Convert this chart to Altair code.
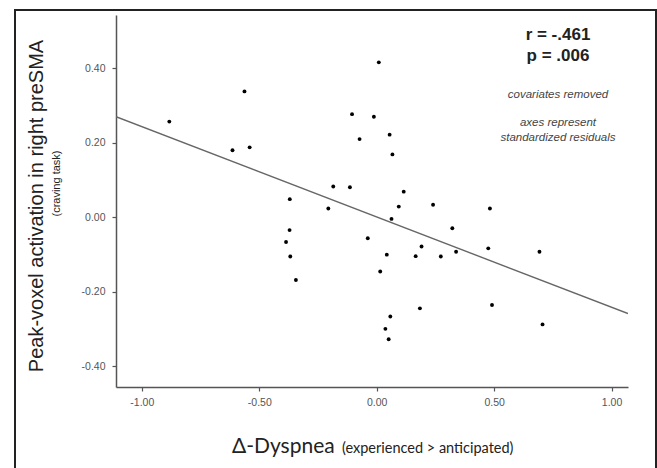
import altair as alt
import pandas as pd

# Standardized residuals: change in dyspnea vs. peak-voxel preSMA activation
dyspnea = [-0.883, -0.563, -0.614, -0.541, -0.370, -0.206, -0.371, -0.386, -0.368, -0.344,
           -0.185, -0.114, 0.009, -0.105, -0.012, -0.073, 0.055, 0.067, 0.115, 0.094,
           0.240, 0.482, 0.063, -0.038, 0.043, 0.015, 0.322, 0.191, 0.166, 0.273,
           0.338, 0.475, 0.693, 0.184, 0.491, 0.058, 0.037, 0.051, 0.706]
activation = [0.257, 0.338, 0.180, 0.188, 0.049, 0.024, -0.034, -0.066, -0.105, -0.168,
              0.083, 0.081, 0.416, 0.277, 0.270, 0.210, 0.222, 0.169, 0.069, 0.029,
              0.034, 0.024, -0.004, -0.056, -0.100, -0.145, -0.029, -0.078, -0.104, -0.105,
              -0.092, -0.083, -0.092, -0.244, -0.235, -0.266, -0.299, -0.327, -0.287]

# Least-squares fit line, drawn across the full x range
fit_x = [-1.11, 1.07]
fit_y = [0.270, -0.258]

x_ticks = [-1.0, -0.5, 0.0, 0.5, 1.0]
y_ticks = [-0.4, -0.2, 0.0, 0.2, 0.4]
x_domain = [-1.11, 1.07]
y_domain = [-0.455, 0.543]

points = pd.DataFrame({"x": dyspnea, "y": activation})
fit = pd.DataFrame({"x": fit_x, "y": fit_y})

W, H = 512, 372
label_expr = "replace(format(datum.value, '.2f'), '\u2212', '-')"

x_scale = alt.Scale(domain=x_domain, nice=False, zero=False)
y_scale = alt.Scale(domain=y_domain, nice=False, zero=False)

x_axis = alt.Axis(values=x_ticks, labelExpr=label_expr, title=None, grid=False,
                  domainColor="#555", domainWidth=1.5, tickColor="#555", tickWidth=1.2,
                  tickSize=4, labelPadding=6, labelFont="Liberation Sans",
                  labelFontSize=10.5, labelColor="#555")
y_axis = alt.Axis(values=y_ticks, labelExpr=label_expr, title=None, grid=False,
                  domainColor="#555", domainWidth=1.5, tickColor="#555", tickWidth=1.2,
                  tickSize=4, labelPadding=7, labelFont="Liberation Sans",
                  labelFontSize=10.5, labelColor="#555")

dots = alt.Chart(points).mark_circle(size=15, color="black", opacity=1).encode(
    x=alt.X("x:Q", scale=x_scale, axis=x_axis),
    y=alt.Y("y:Q", scale=y_scale, axis=y_axis),
)

line = alt.Chart(fit).mark_line(color="#666", strokeWidth=1.4, clip=True).encode(
    x=alt.X("x:Q", scale=x_scale),
    y=alt.Y("y:Q", scale=y_scale),
)

# Outer panel frame
frame = alt.Chart(pd.DataFrame({"k": [0]})).mark_rect(
    fill=None, stroke="#222", strokeWidth=2
).encode(x=alt.value(-101), x2=alt.value(540), y=alt.value(-5), y2=alt.value(470))


def label(text, **kw):
    return alt.Chart(pd.DataFrame({"t": [text]})).mark_text(**kw).encode(text="t:N")


stats_r = label("r = -.461", x=442, y=24.5, align="center", baseline="alphabetic",
                font="Liberation Sans", fontSize=17, fontWeight="bold", color="#222")
stats_p = label("p = .006", x=442, y=46, align="center", baseline="alphabetic",
                font="Liberation Sans", fontSize=17, fontWeight="bold", color="#222")
note1 = label("covariates removed", x=442, y=83, align="center", baseline="alphabetic",
              font="Liberation Sans", fontSize=11.5, fontStyle="italic", color="#444")
note2 = label("axes represent", x=442, y=111, align="center", baseline="alphabetic",
              font="Liberation Sans", fontSize=11.5, fontStyle="italic", color="#444")
note3 = label("standardized residuals", x=442, y=125.5, align="center", baseline="alphabetic",
              font="Liberation Sans", fontSize=11.5, fontStyle="italic", color="#444")

y_title = label("Peak-voxel activation in right preSMA", x=-73, y=191, angle=270,
                align="center", baseline="alphabetic", font="Liberation Sans",
                fontSize=20, color="#222")
y_sub = label("(craving task)", x=-56.5, y=168.5, angle=270, align="center",
              baseline="alphabetic", font="Liberation Sans", fontSize=11, color="#222")

x_title = label("\u0394-Dyspnea", x=116, y=438, align="left", baseline="alphabetic",
                font="Lato", fontSize=21, color="#222")
x_sub = label("(experienced > anticipated)", x=226, y=438, align="left",
              baseline="alphabetic", font="Lato", fontSize=14.5, color="#222")

chart = alt.layer(
    frame, line, dots, stats_r, stats_p, note1, note2, note3, y_title, y_sub, x_title, x_sub
).properties(
    width=W, height=H,
    autosize=alt.AutoSizeParams(type="none"),
    padding={"left": 116, "top": 15, "right": 29, "bottom": 81},
    background="white",
).configure_view(stroke=None)

chart.save("out.html", embed_options={"renderer": "svg", "actions": False})
